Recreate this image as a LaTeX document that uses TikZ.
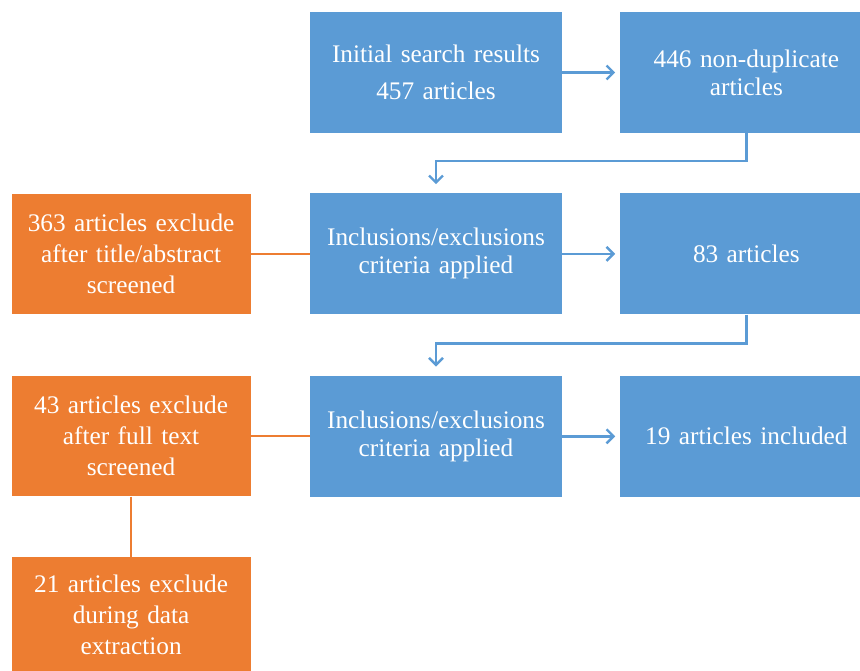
\documentclass[tikz,border=0pt]{standalone}
\usepackage{fontspec}
\setmainfont{Liberation Serif}
\newfontfamily\boxfont{Liberation Serif}
\usepackage{tikz}
\usetikzlibrary{positioning}
\usetikzlibrary{arrows.meta}
\definecolor{boxblue}{HTML}{5B9BD5}
\definecolor{boxorange}{HTML}{ED7D31}
\tikzset{
bbox/.style={
  rectangle,
  inner sep=0pt,
  minimum width=252pt,
  minimum height=121pt,
  text width=240pt,
  align=center,
  fill=boxblue,
  text=white,
  font=\boxfont\fontsize{25.3}{28}\selectfont
  },
obox/.style={
  bbox,
  minimum width=239pt,
  minimum height=120pt,
  text width=230pt,
  fill=boxorange,
  font=\boxfont\fontsize{25.3}{31}\selectfont
  },
flow/.style={
  draw=boxblue,
  line width=2.4pt,
  -{Straight Barb[length=7pt,width=14pt,line width=2.4pt]},
  shorten >=5pt
  },
link/.style={
  draw=boxorange,
  line width=2.2pt
  }
}
\begin{document}
\begin{tikzpicture}[node distance=60pt]
\useasboundingbox (0,0) rectangle (860pt,-670pt);
\node[bbox,font=\boxfont\fontsize{25.3}{37}\selectfont] (search) at (436pt,-72.5pt) {Initial search results\\457 articles};
\node[bbox] (nondup) [right=58pt of search] {446 non-duplicate\\articles};
\node[bbox] (crit1) [below=60pt of search] {Inclusions/exclusions\\criteria applied};
\node[bbox] (n83) [right=58pt of crit1] {83 articles};
\node[obox] (excl1) [left=59pt of crit1] {363 articles exclude\\after title/abstract\\screened};
\node[bbox] (crit2) [below=61pt of crit1] {Inclusions/exclusions\\criteria applied};
\node[bbox] (n19) [right=58pt of crit2] {19 articles included};
\node[obox] (excl2) [left=59pt of crit2] {43 articles exclude\\after full text\\screened};
\node[obox,minimum height=116pt] (excl3) [below=60pt of excl2.south,anchor=north] {21 articles exclude\\during data\\extraction};
\path[flow]
(search) -- (nondup);
\path[flow,shorten >=9pt]
(nondup.south) -- ++(0,-28pt) -| (crit1.north);
\path[flow]
(crit1) -- (n83);
\path[flow,shorten >=9pt]
(n83.south) -- ++(0,-29pt) -| (crit2.north);
\path[flow]
(crit2) -- (n19);
\path[link]
(excl1) -- (crit1)
(excl2) -- (crit2)
(excl2) -- (excl3);
\end{tikzpicture}
\end{document}
